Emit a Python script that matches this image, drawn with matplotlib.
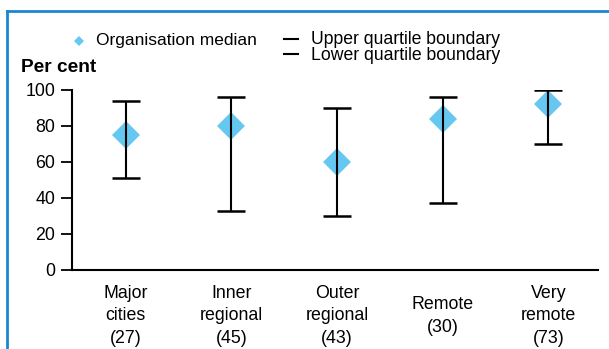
import numpy as np
import matplotlib.pyplot as plt
from matplotlib.lines import Line2D

plt.rcParams['font.family'] = ['Liberation Sans', 'DejaVu Sans']

categories = ['Major\ncities\n(27)', 'Inner\nregional\n(45)', 'Outer\nregional\n(43)',
              'Remote\n(30)', 'Very\nremote\n(73)']
median = [75, 80, 60, 84, 92]
upper_q = [94, 96, 90, 96, 100]
lower_q = [51, 33, 30, 37, 70]

W, H = 609, 349
fig = plt.figure(figsize=(W / 100, H / 100), dpi=100)
ax = fig.add_axes([72 / W, 1 - 270 / H, (598 - 72) / W, (270 - 90) / H])

x = np.arange(len(categories))
med = np.array(median)
lo = med - np.array(lower_q)
hi = np.array(upper_q) - med

ax.plot(x, med, linestyle='none', marker='D', markersize=14.5, color='#66c8f0',
        markeredgewidth=0, zorder=2)
ax.errorbar(x, med, yerr=[lo, hi], fmt='none', ecolor='black', elinewidth=1.5,
            capsize=10, capthick=1.8, zorder=3)

ax.set_xlim(-0.51, 4.47)
ax.set_ylim(0, 100)
ax.set_yticks([0, 20, 40, 60, 80, 100])
ax.set_xticks(x)
ax.set_xticklabels(categories, va='center', linespacing=1.42)
ax.tick_params(axis='x', length=0, pad=33, labelsize=12.8)
ax.tick_params(axis='y', length=8, width=1.3, pad=4, labelsize=12.8)

for s in ['top', 'right']:
    ax.spines[s].set_visible(False)
for s in ['left', 'bottom']:
    ax.spines[s].set_linewidth(1.5)

# figure frame
blue = '#1c86cf'
fig.add_artist(Line2D([7 / W, 7 / W], [0, 1 - 11 / H], color=blue, lw=2))
fig.add_artist(Line2D([7 / W, 1], [1 - 11 / H, 1 - 11 / H], color=blue, lw=2))

# legend
fig.add_artist(Line2D([79 / W], [1 - 41 / H], marker='D', markersize=5,
                      color='#66c8f0', markeredgewidth=0, linestyle='none'))
fig.text(96 / W, 1 - 41 / H, 'Organisation median', fontsize=12.5, va='center')
fig.add_artist(Line2D([284 / W, 298 / W], [1 - 39 / H] * 2, color='black', lw=1.5))
fig.add_artist(Line2D([284 / W, 298 / W], [1 - 54 / H] * 2, color='black', lw=1.5))
fig.text(311 / W, 1 - 40 / H, 'Upper quartile boundary', fontsize=12.7, va='center')
fig.text(311 / W, 1 - 56 / H, 'Lower quartile boundary', fontsize=12.7, va='center')
fig.text(21 / W, 1 - 67 / H, 'Per cent', fontsize=13.8, fontweight='bold', va='center')

fig.savefig('out.png', dpi=100)
